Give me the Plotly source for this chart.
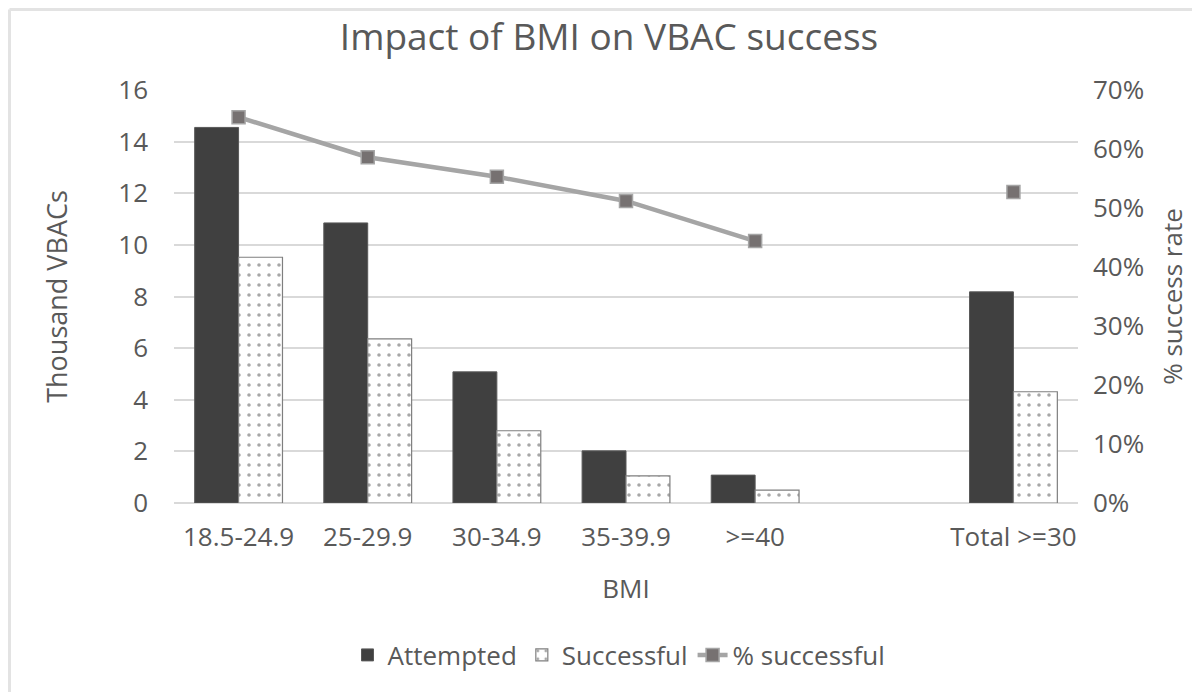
import plotly.graph_objects as go

categories = ["18.5-24.9", "25-29.9", "30-34.9", "35-39.9", ">=40", " ", "Total >=30"]
tick_labels = ["18.5-24.9", "25-29.9", "30-34.9", "35-39.9", ">=40", "", "Total >=30"]
attempted = [14.55, 10.85, 5.08, 2.02, 1.08, None, 8.18]
successful = [9.52, 6.36, 2.80, 1.05, 0.50, None, 4.31]
pct_successful = [0.654, 0.586, 0.553, 0.512, 0.444, None, 0.527]

FONT = "Open Sans"
TXT = "#595959"
GRID = "#d9d9d9"

W, H = 1192, 684
ML, MR, MT, MB = 166, 122, 82, 189
PW = W - ML - MR
PH = H - MT - MB

fig = go.Figure()
fig.add_trace(go.Bar(
    name="Attempted", x=categories, y=attempted,
    marker=dict(color="#404040", line=dict(color="#595959", width=1)),
))
fig.add_trace(go.Bar(
    name="Successful", x=categories, y=successful,
    marker=dict(color="white", line=dict(color="#7f7f7f", width=1.2),
                pattern=dict(shape=".", fgcolor="#505050", bgcolor="white",
                             size=10, solidity=0.1)),
))
fig.add_trace(go.Scatter(
    name="% successful", x=categories, y=pct_successful, yaxis="y2",
    mode="lines+markers", connectgaps=False,
    line=dict(color="#a5a5a5", width=4.5),
    marker=dict(symbol="square", size=13, color="#767171",
                line=dict(color="#a5a5a5", width=1.5)),
))

xl = 1.5 / PW - ML / PW
yt = 1 + (MT - 1.5) / PH
fig.update_layout(
    width=W, height=H,
    margin=dict(l=ML, r=MR, t=MT, b=MB, autoexpand=False),
    paper_bgcolor="white", plot_bgcolor="white",
    font=dict(family=FONT, color=TXT, size=26),
    title=dict(text="Impact of BMI on VBAC success", x=601 / W,
               xanchor="center", y=1 - 29 / H, yanchor="middle",
               font=dict(family=FONT, size=37, color=TXT)),
    barmode="group", bargap=0.32, bargroupgap=0,
    showlegend=True,
    legend=dict(orientation="h", x=(611 - ML) / PW, xanchor="center", y=-152 / PH,
                yanchor="middle", font=dict(size=26, color=TXT), traceorder="normal",
                bgcolor="rgba(0,0,0,0)"),
    xaxis=dict(
        type="category", categoryorder="array", categoryarray=categories,
        tickmode="array", tickvals=categories, ticktext=tick_labels,
        showgrid=False, showline=False, zeroline=False, ticks="",
        tickfont=dict(size=26, color=TXT), ticklabelstandoff=16,
        title=dict(text="BMI", font=dict(size=26, color=TXT), standoff=26),
    ),
    yaxis=dict(
        range=[0, 16], dtick=2, showgrid=True, gridcolor=GRID, gridwidth=1.5,
        zeroline=True, zerolinecolor=GRID, zerolinewidth=1.5, showline=False,
        ticks="", tickfont=dict(size=26, color=TXT), ticklabelstandoff=25,
        title=dict(text="Thousand VBACs", font=dict(size=27, color=TXT), standoff=42),
    ),
    yaxis2=dict(
        range=[0, 0.7], dtick=0.1, tickformat=".0%", overlaying="y", side="right",
        showgrid=False, zeroline=False, showline=False, ticks="",
        tickfont=dict(size=26, color=TXT), ticklabelstandoff=14,
        title=dict(text="% success rate", font=dict(size=26, color=TXT), standoff=20),
    ),
    shapes=[
        dict(type="line", xref="paper", yref="paper", x0=xl, x1=1 + MR / PW,
             y0=yt, y1=yt, line=dict(color="#e3e3e3", width=3)),
        dict(type="line", xref="paper", yref="paper", x0=xl, x1=xl,
             y0=yt, y1=-MB / PH, line=dict(color="#e3e3e3", width=3)),
    ],
)

fig.write_html("out.html")
